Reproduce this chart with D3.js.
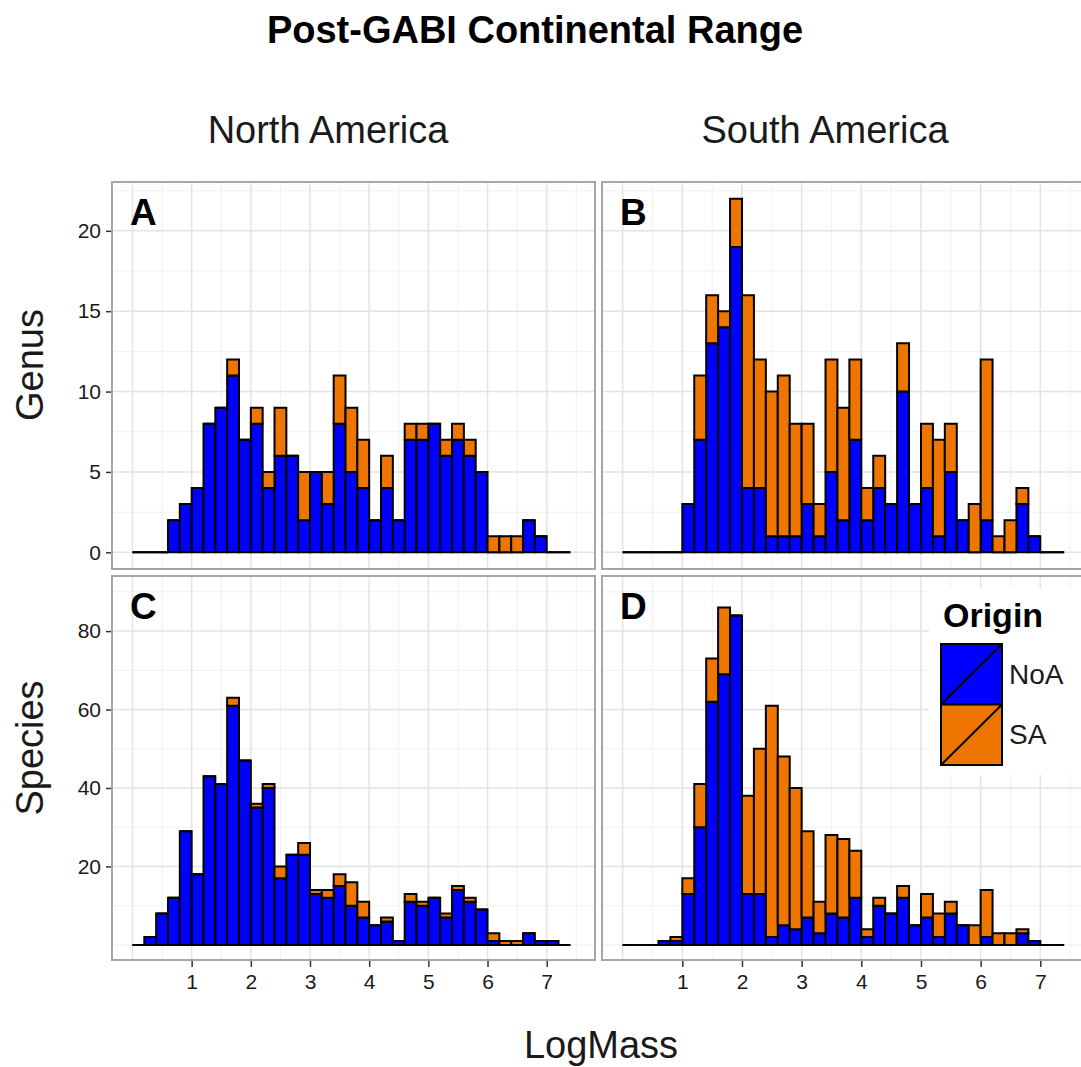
<!DOCTYPE html>
<html><head><meta charset="utf-8">
<script src="https://cdn.jsdelivr.net/npm/d3@7"></script>
<style>body{margin:0;background:#fff}svg{display:block;font-family:"Liberation Sans",Arial,sans-serif}</style>
</head><body><svg id="c" width="1081" height="1067"></svg>
<script>
// Bin lower edges (LogMass), bin width 0.2
const binStarts = [0,0.2,0.4,0.6,0.8,1.0,1.2,1.4,1.6,1.8,2.0,2.2,2.4,2.6,2.8,3.0,3.2,3.4,3.6,3.8,4.0,4.2,4.4,4.6,4.8,5.0,5.2,5.4,5.6,5.8,6.0,6.2,6.4,6.6,6.8,7.0,7.2];
const binWidth = 0.2;
// Panel A: North America, Genus
const genusNA_NoA = [0,0,0,2,3,4,8,9,11,7,8,4,6,6,2,5,3,8,5,4,2,4,2,7,7,8,6,7,6,5,0,0,0,2,1,0,0];
const genusNA_SA  = [0,0,0,0,0,0,0,0,1,0,1,1,3,0,3,0,2,3,4,3,0,2,0,1,1,0,1,1,1,0,1,1,1,0,0,0,0];
// Panel B: South America, Genus
const genusSA_NoA = [0,0,0,0,0,3,7,13,14,19,4,4,1,1,1,3,1,5,2,7,2,4,3,10,3,4,1,5,2,0,2,0,0,3,1,0,0];
const genusSA_SA  = [0,0,0,0,0,0,4,3,1,3,12,8,9,10,7,5,2,7,7,5,2,2,0,3,0,4,6,3,0,3,10,1,2,1,0,0,0];
// Panel C: North America, Species
const speciesNA_NoA = [0,2,8,12,29,18,43,41,61,47,35,40,17,23,23,13,12,15,10,7,5,6,1,11,10,12,7,14,11,9,1,0,0,3,1,1,0];
const speciesNA_SA  = [0,0,0,0,0,0,0,0,2,0,1,1,3,0,3,1,2,3,6,4,0,1,0,2,1,0,1,1,1,0,2,1,1,0,0,0,0];
// Panel D: South America, Species
const speciesSA_NoA = [0,0,0,1,1,13,30,62,69,84,13,13,2,5,4,7,3,8,7,12,2,10,8,12,5,7,2,8,5,0,2,0,0,3,1,0,0];
const speciesSA_SA  = [0,0,0,0,1,4,11,11,17,0,25,37,59,43,36,22,8,20,20,12,2,2,0,3,0,6,6,3,0,5,12,3,3,1,0,0,0];

const xTicks = [1,2,3,4,5,6,7];
const genusTicks = [0,5,10,15,20];
const speciesTicks = [20,40,60,80];
const origins = ["NoA","SA"];
const colors = {NoA:"#0000FF", SA:"#EE7600"};
const panelLabels = ["A","B","C","D"];
const columnTitles = ["North America","South America"];
const rowTitles = ["Genus","Species"];

const svg = d3.select("#c");
const FONT = '"Liberation Sans",Arial,sans-serif';

const xDomain = [-0.363, 7.833];
const cols = [[111,596],[601,1090]];
const rows = [[181,570],[575,961]];
const yDomains = [[-1.1,23.1],[-4.1,94.3]];
const xScales = cols.map(r => d3.scaleLinear().domain(xDomain).range(r));
const yScales = rows.map((r,i) => d3.scaleLinear().domain(yDomains[i]).range([r[1], r[0]]));

const panels = [
  {r:0,c:0,noa:genusNA_NoA,sa:genusNA_SA,ticks:genusTicks,minor:[2.5,7.5,12.5,17.5,22.5]},
  {r:0,c:1,noa:genusSA_NoA,sa:genusSA_SA,ticks:genusTicks,minor:[2.5,7.5,12.5,17.5,22.5]},
  {r:1,c:0,noa:speciesNA_NoA,sa:speciesNA_SA,ticks:speciesTicks,minor:[0,10,30,50,70,90]},
  {r:1,c:1,noa:speciesSA_NoA,sa:speciesSA_SA,ticks:speciesTicks,minor:[0,10,30,50,70,90]}
];
const xMinor = [0.5,1.5,2.5,3.5,4.5,5.5,6.5,7.5];
const xMajor = [0,1,2,3,4,5,6,7];

function rectPath(x0,x1,ya,yb){ return `M${x0},${yb}H${x1}V${ya}H${x0}Z`; }

const defs = svg.append("defs");
panels.forEach((p,i) => {
  const x = xScales[p.c], y = yScales[p.r];
  const [x0,x1] = cols[p.c], [y0,y1] = rows[p.r];
  defs.append("clipPath").attr("id","clip"+i).append("rect")
    .attr("x",x0).attr("y",y0).attr("width",x1-x0).attr("height",y1-y0);
  const g = svg.append("g").attr("clip-path",`url(#clip${i})`);
  g.append("rect").attr("x",x0).attr("y",y0).attr("width",x1-x0).attr("height",y1-y0).attr("fill","#fff");
  // grid
  g.selectAll(".xm").data(xMinor).join("line").attr("x1",d=>x(d)).attr("x2",d=>x(d)).attr("y1",y0).attr("y2",y1)
    .attr("stroke","#f0f0f0").attr("stroke-width",1);
  p.minor.forEach(v=>g.append("line").attr("x1",x0).attr("x2",x1).attr("y1",y(v)).attr("y2",y(v)).attr("stroke","#f0f0f0").attr("stroke-width",1));
  g.selectAll(".xM").data(xMajor).join("line").attr("x1",d=>x(d)).attr("x2",d=>x(d)).attr("y1",y0).attr("y2",y1)
    .attr("stroke","#e3e3e3").attr("stroke-width",1.5);
  p.ticks.forEach(v=>g.append("line").attr("x1",x0).attr("x2",x1).attr("y1",y(v)).attr("y2",y(v)).attr("stroke","#e3e3e3").attr("stroke-width",1.5));
  // legend background (panel D)
  if (i===3) g.append("rect").attr("x",929).attr("y",588).attr("width",160).attr("height",187).attr("fill","#fff");
  // bars (zero-height bins still draw their outline, as in the original)
  const data = binStarts.map((b,k)=>({b, noa:p.noa[k], sa:p.sa[k]}));
  g.selectAll(".bn").data(data).join("path")
    .attr("d",d=>rectPath(x(d.b),x(d.b+binWidth),y(d.noa),y(0)))
    .attr("fill",colors.NoA).attr("stroke","#000").attr("stroke-width",2);
  g.selectAll(".bs").data(data).join("path")
    .attr("d",d=>rectPath(x(d.b),x(d.b+binWidth),y(d.noa+d.sa),y(d.noa)))
    .attr("fill",colors.SA).attr("stroke","#000").attr("stroke-width",2);
  // border
  svg.append("rect").attr("x",x0+1).attr("y",y0+1).attr("width",x1-x0-2).attr("height",y1-y0-2)
    .attr("fill","none").attr("stroke","#a6a6a6").attr("stroke-width",2);
  // panel label
  svg.append("text").attr("x",x0+19).attr("y",y0+44).text(panelLabels[i])
    .attr("font-family",FONT).attr("font-weight","bold").attr("font-size",37).attr("fill","#000");
});

// y axes (left column only)
[0,1].forEach(r=>{
  const y = yScales[r];
  const ticks = r===0 ? genusTicks : speciesTicks;
  const ax = svg.append("g").attr("transform",`translate(${cols[0][0]},0)`)
    .call(d3.axisLeft(y).tickValues(ticks).tickSize(5).tickPadding(5));
  ax.select(".domain").remove();
  ax.selectAll(".tick line").attr("stroke","#333").attr("stroke-width",1.5);
  ax.selectAll(".tick text").attr("font-family",FONT).attr("font-size",21).attr("fill","#1a1a1a");
});
// x axes (bottom row)
[0,1].forEach(c=>{
  const ax = svg.append("g").attr("transform",`translate(0,${rows[1][1]})`)
    .call(d3.axisBottom(xScales[c]).tickValues(xTicks).tickSize(6).tickPadding(7));
  ax.select(".domain").remove();
  ax.selectAll(".tick line").attr("stroke","#333").attr("stroke-width",1.5);
  ax.selectAll(".tick text").attr("font-family",FONT).attr("font-size",21).attr("fill","#1a1a1a");
});

// titles
svg.append("text").attr("x",535).attr("y",43).attr("text-anchor","middle").text("Post-GABI Continental Range")
  .attr("font-family",FONT).attr("font-weight","bold").attr("font-size",38).attr("fill","#000");
[328,825].forEach((cx,i)=>svg.append("text").attr("x",cx).attr("y",143).attr("text-anchor","middle").text(columnTitles[i])
  .attr("font-family",FONT).attr("font-size",38).attr("fill","#1a1a1a"));
[365,748].forEach((cy,i)=>svg.append("text").attr("transform",`translate(43,${cy}) rotate(-90)`).attr("text-anchor","middle").text(rowTitles[i])
  .attr("font-family",FONT).attr("font-size",38).attr("fill","#1a1a1a"));
svg.append("text").attr("x",601).attr("y",1058).attr("text-anchor","middle").text("LogMass")
  .attr("font-family",FONT).attr("font-size",38).attr("fill","#1a1a1a");

// legend
const lg = svg.append("g");
lg.append("text").attr("x",943).attr("y",627).text("Origin")
  .attr("font-family",FONT).attr("font-weight","bold").attr("font-size",34).attr("fill","#000");
origins.forEach((o,i)=>{
  const ky = 644 + i*60.5;
  lg.append("rect").attr("x",941).attr("y",ky).attr("width",61).attr("height",60.5)
    .attr("fill",colors[o]).attr("stroke","#000").attr("stroke-width",2);
  lg.append("line").attr("x1",941).attr("y1",ky+60.5).attr("x2",1002).attr("y2",ky)
    .attr("stroke","#000").attr("stroke-width",2);
  lg.append("text").attr("x",1009).attr("y",ky+30).attr("dy","0.35em").text(o)
    .attr("font-family",FONT).attr("font-size",28).attr("fill","#1a1a1a");
});
</script></body></html>
